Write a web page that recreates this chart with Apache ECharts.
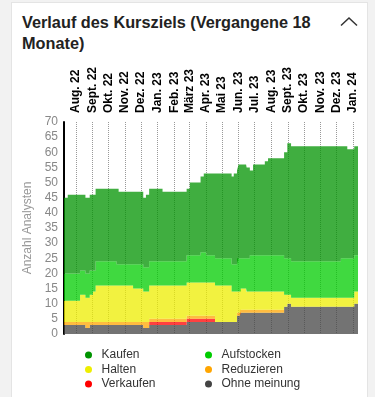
<!DOCTYPE html>
<html>
<head>
<meta charset="utf-8">
<script src="https://cdn.jsdelivr.net/npm/echarts@6/dist/echarts.min.js"></script>
<style>
  html, body { margin:0; padding:0; width:375px; height:397px; overflow:hidden; background:#f2f2f2; font-family:"Liberation Sans", Arial, sans-serif; }
  #card { position:absolute; left:11px; top:2px; width:357px; height:400px; background:#fff; border:1px solid #e4e4e4; box-sizing:border-box; }
  #title { position:absolute; left:22px; top:12px; font-size:16.3px; font-weight:bold; line-height:21px; color:#222; }
  #chev { position:absolute; left:338px; top:14px; }
  #chart { position:absolute; left:0; top:0; width:375px; height:397px; }
</style>
</head>
<body>
<div id="card"></div>
<div id="title">Verlauf des Kursziels (Vergangene 18<br>Monate)</div>
<svg id="chev" width="24" height="16" viewBox="0 0 24 16"><polyline points="3,11.5 11,4 19,11.5" fill="none" stroke="#333" stroke-width="1.5"/></svg>
<div id="chart"></div>
<script>
// Change points (each value holds until the next date)
const dates = ['2022-07-10','2022-07-17','2022-08-09','2022-08-19','2022-08-27','2022-09-02','2022-09-07','2022-10-16','2022-10-20','2022-11-16','2022-12-05','2022-12-10','2022-12-16','2023-01-10','2023-02-24','2023-03-02','2023-03-22','2023-03-28','2023-04-02','2023-04-18','2023-05-19','2023-05-23','2023-05-29','2023-06-01','2023-06-03','2023-06-05','2023-06-15','2023-06-16','2023-06-22','2023-06-28','2023-07-20','2023-07-26','2023-08-25','2023-08-31','2023-09-07','2023-12-09','2023-12-21','2024-01-03','2024-01-10'];
const ohneMeinung = [3,3,3,2,3,3,3,3,3,3,2,2,3,3,4,4,4,4,4,4,4,4,6,6,7,7,7,7,7,7,7,7,9,10,9,9,9,10,10];
const verkaufen   = [0,0,0,0,0,0,0,0,0,0,0,0,1,1,1,1,1,1,1,0,0,0,0,0,0,0,0,0,0,0,0,0,0,0,0,0,0,0,0];
const reduzieren  = [1,1,1,2,1,1,1,1,1,1,2,2,1,1,1,1,1,1,1,0,0,0,1,1,1,1,1,1,1,1,1,1,0,0,0,0,0,0,0];
const halten      = [7,7,9,8,9,10,12,12,12,11,10,10,11,11,11,11,11,11,11,12,10,10,7,7,6,7,6,6,6,6,6,6,4,3,3,3,3,4,4];
const aufstocken  = [9,9,8,8,8,7,8,7,7,8,8,8,8,8,9,9,10,10,9,9,9,9,11,11,11,10,11,11,12,12,12,12,12,12,12,13,13,12,12];
const kaufen      = [25,26,25,25,25,25,24,25,24,24,23,24,24,23,22,24,25,26,27,28,29,30,29,31,31,31,31,30,28,30,31,32,35,38,38,37,36,36,36];

const monthLabels = ['Jan.','Feb.','März','Apr.','Mai','Jun.','Jul.','Aug.','Sept.','Okt.','Nov.','Dez.'];
const yTicks = { min: 0, max: 70, step: 5 };
const axisStart = '2022-07-10';
const axisEnd = '2024-01-10';

const seriesDefs = [
  { name: 'Ohne meinung', data: ohneMeinung, color: '#444444' },
  { name: 'Verkaufen', data: verkaufen, color: '#ff0000' },
  { name: 'Reduzieren', data: reduzieren, color: '#ffa500' },
  { name: 'Halten', data: halten, color: '#eeee00' },
  { name: 'Aufstocken', data: aufstocken, color: '#00cc00' },
  { name: 'Kaufen', data: kaufen, color: '#009300' }
];

const chart = echarts.init(document.getElementById('chart'), null, { renderer: 'canvas' });
const legendCommon = {
  orient: 'vertical', icon: 'circle', itemWidth: 16, itemHeight: 7, itemGap: 2.5,
  textStyle: { fontSize: 12, color: '#333', fontFamily: 'Liberation Sans, Arial, sans-serif' },
  selectedMode: false
};
chart.setOption({
  animation: false,
  grid: { left: 64, right: 17, top: 122, bottom: 63 },
  legend: [
    Object.assign({ left: 80, top: 344, data: ['Kaufen', 'Halten', 'Verkaufen'] }, legendCommon),
    Object.assign({ left: 200, top: 344, data: ['Aufstocken', 'Reduzieren', 'Ohne meinung'] }, legendCommon)
  ],
  xAxis: {
    type: 'time', position: 'top',
    min: axisStart, max: axisEnd, splitNumber: 18,
    axisLine: { show: false }, axisTick: { show: false },
    axisLabel: {
      rotate: 90, fontWeight: 'bold', fontSize: 12, color: '#000', margin: 9,
      fontFamily: 'Liberation Sans, Arial, sans-serif',
      showMinLabel: false, showMaxLabel: false, hideOverlap: false,
      formatter: function (v) {
        const d = new Date(v);
        return monthLabels[d.getMonth()] + ' ' + String(d.getFullYear()).slice(2);
      }
    },
    splitLine: { show: true, showMinLine: false, showMaxLine: false, lineStyle: { type: 'dotted', color: '#999', width: 1 } }
  },
  yAxis: {
    type: 'value', min: yTicks.min, max: yTicks.max, interval: yTicks.step,
    name: 'Anzahl Analysten', nameLocation: 'middle', nameGap: 21,
    nameTextStyle: { color: '#999', fontSize: 12, fontFamily: 'Liberation Sans, Arial, sans-serif' },
    axisLine: { show: true, lineStyle: { color: '#000', width: 2 } },
    axisTick: { show: false },
    splitLine: { show: false },
    axisLabel: { color: '#888', fontSize: 12, margin: 6, fontFamily: 'Liberation Sans, Arial, sans-serif' }
  },
  series: seriesDefs.map(s => ({
    name: s.name, type: 'line', stack: 'total', step: 'end',
    showSymbol: false, symbol: 'none',
    itemStyle: { color: s.color },
    lineStyle: { width: 0 },
    areaStyle: { color: s.color, opacity: 0.75 },
    emphasis: { disabled: true },
    data: dates.map((d, i) => [d, s.data[i]])
  }))
});
</script>
</body>
</html>
